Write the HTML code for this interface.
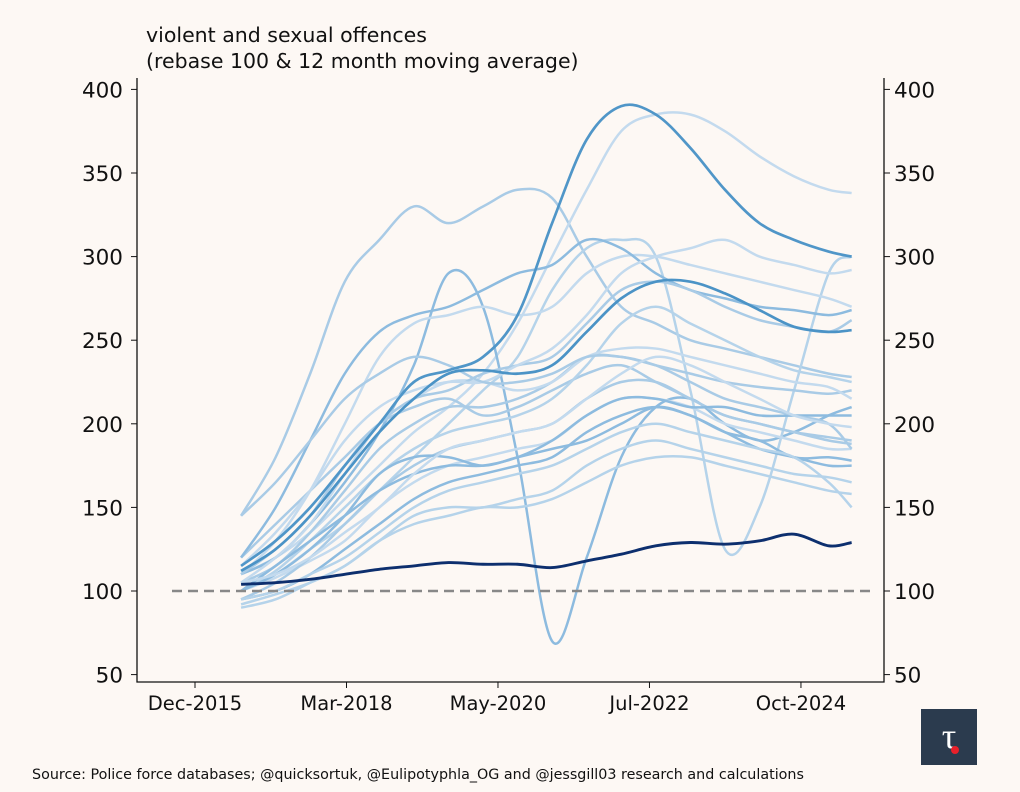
<!DOCTYPE html>
<html><head><meta charset="utf-8"><style>
body{margin:0;background:#fdf8f4;}
svg{display:block;font-family:"DejaVu Sans","Liberation Sans",sans-serif;}
</style></head><body>
<svg width="1020" height="792" viewBox="0 0 1020 792">
<rect width="1020" height="792" fill="#fdf8f4"/>
<text x="146" y="42" font-size="20.5" fill="#111">violent and sexual offences</text>
<text x="146" y="68" font-size="20.5" fill="#111">(rebase 100 &amp; 12 month moving average)</text>
<g id="plot"></g>
<text x="32" y="779" font-size="14.3" fill="#111">Source: Police force databases; @quicksortuk, @Eulipotyphla_OG and @jessgill03 research and calculations</text>
<g>
<rect x="921" y="709" width="56" height="56" fill="#2b3b4e"/>
<text x="949" y="748" font-size="36" fill="#fff" text-anchor="middle" font-family="Liberation Serif,serif">τ</text>
<circle cx="955" cy="750" r="4" fill="#e8202a"/>
</g>
</svg>
<script>
const months=[8,14,20,26,32,38,44,50,56,62,68,74,80,86,92,98,104,110,114];
const yTicks=[50,100,150,200,250,300,350,400];
const xTickMonths=[0,26.3,52.6,78.9,105.2];
const xTickLabels=["Dec-2015","Mar-2018","May-2020","Jul-2022","Oct-2024"];
const navy=[104,105,107,110,113,115,117,116,116,114,118,122,127,129,128,130,134,127,129];
const peak=[115,130,150,175,200,225,232,240,265,320,370,390,385,365,340,320,310,303,300];
const mid=[112,125,145,170,195,215,230,232,230,235,255,275,285,285,278,268,258,255,256];
const light=[
[145,180,230,285,310,330,320,330,340,335,300,270,260,250,245,240,235,230,228],
[110,120,135,155,175,195,210,230,260,300,340,375,385,385,375,360,348,340,338],
[110,120,140,165,195,235,290,270,180,70,120,180,210,215,200,190,195,205,210],
[100,110,125,140,160,180,200,220,240,280,305,310,300,220,125,150,220,290,300],
[120,140,160,180,200,210,215,205,210,220,230,235,225,215,205,200,195,190,188],
[100,108,118,130,150,165,175,180,185,190,205,215,215,210,200,195,190,185,185],
[95,100,110,125,140,155,165,170,175,180,195,205,210,205,195,185,180,175,175],
[90,95,105,115,130,145,150,150,155,160,175,185,190,185,180,175,170,168,165],
[105,115,135,160,185,200,210,210,215,225,240,240,235,230,225,222,220,218,220],
[110,130,160,200,240,260,265,270,265,270,290,300,300,295,290,285,280,275,270],
[120,150,190,230,255,265,270,280,290,295,310,305,290,280,275,270,268,265,268],
[100,112,130,150,170,185,195,200,205,215,235,260,270,260,250,240,232,228,225],
[95,105,120,140,160,175,185,190,195,200,215,225,225,215,205,200,195,192,190],
[105,120,140,170,200,215,225,225,220,225,240,245,245,240,235,230,225,222,215],
[100,110,125,145,170,180,180,175,180,185,190,200,210,205,195,190,180,180,178],
[92,98,105,115,130,140,145,150,150,155,165,175,180,180,175,170,165,160,158],
[110,125,145,175,200,215,220,230,235,240,260,280,285,280,270,262,258,255,262],
[115,135,160,190,210,220,225,225,235,245,265,290,300,305,310,300,295,290,292],
[100,115,130,145,160,170,175,175,180,190,205,215,215,210,210,205,205,205,205],
[95,100,110,120,135,150,160,165,170,175,185,195,200,195,190,185,180,165,150],
[145,165,190,215,230,240,235,225,225,230,240,240,235,225,215,210,205,200,185],
[105,110,120,135,150,170,185,190,195,200,215,230,240,235,225,215,205,200,198]
];
const lightColors=["#a9cbe6","#c3daee","#8dbbdf","#b5d3ea"];
const NS="http://www.w3.org/2000/svg";
const plot=document.getElementById('plot');
const X=m=>195+m*5.76, Y=v=>591-(v-100)*1.672;
function mk(t,a){const e=document.createElementNS(NS,t);for(const k in a)e.setAttribute(k,a[k]);plot.appendChild(e);return e;}
function path(vals){const p=vals.map((v,i)=>[X(months[i]),Y(v)]);let d=`M${p[0][0]},${p[0][1]}`;
for(let i=0;i<p.length-1;i++){const p0=p[Math.max(0,i-1)],p1=p[i],p2=p[i+1],p3=p[Math.min(p.length-1,i+2)];
d+=` C${p1[0]+(p2[0]-p0[0])/6},${p1[1]+(p2[1]-p0[1])/6} ${p2[0]-(p3[0]-p1[0])/6},${p2[1]-(p3[1]-p1[1])/6} ${p2[0]},${p2[1]}`;}return d;}
light.forEach((s,i)=>{const e=mk('path',{d:path(s),fill:'none',stroke:lightColors[i%4],'stroke-width':2.5});

});
let e=mk('path',{d:path(mid),fill:'none',stroke:'#4b93c6','stroke-width':2.7});


e=mk('path',{d:path(peak),fill:'none',stroke:'#5096c8','stroke-width':2.7});


e=mk('path',{d:path(navy),fill:'none',stroke:'#0d2f6e','stroke-width':2.9});


e=mk('line',{x1:172,x2:876,y1:Y(100),y2:Y(100),stroke:'#888','stroke-width':2.6,'stroke-dasharray':'10,6'});


e=mk('path',{d:'M137,78 V682 H884 V78',fill:'none',stroke:'#111','stroke-width':1.3});


yTicks.forEach(v=>{const y=Y(v);
mk('line',{x1:131,x2:137,y1:y,y2:y,stroke:'#111'});mk('line',{x1:884,x2:890,y1:y,y2:y,stroke:'#111'});
let t=mk('text',{x:123,y:y+8,'font-size':21.5,'text-anchor':'end',fill:'#111'});t.textContent=v;


t=mk('text',{x:894,y:y+8,'font-size':21.5,fill:'#111'});t.textContent=v;

});
xTickMonths.forEach((m,i)=>{const x=X(m);mk('line',{x1:x,x2:x,y1:682,y2:688,stroke:'#111'});
const t=mk('text',{x:x,y:710,'font-size':19.5,'text-anchor':'middle',fill:'#111'});t.textContent=xTickLabels[i];

});
</script>
</body></html>
